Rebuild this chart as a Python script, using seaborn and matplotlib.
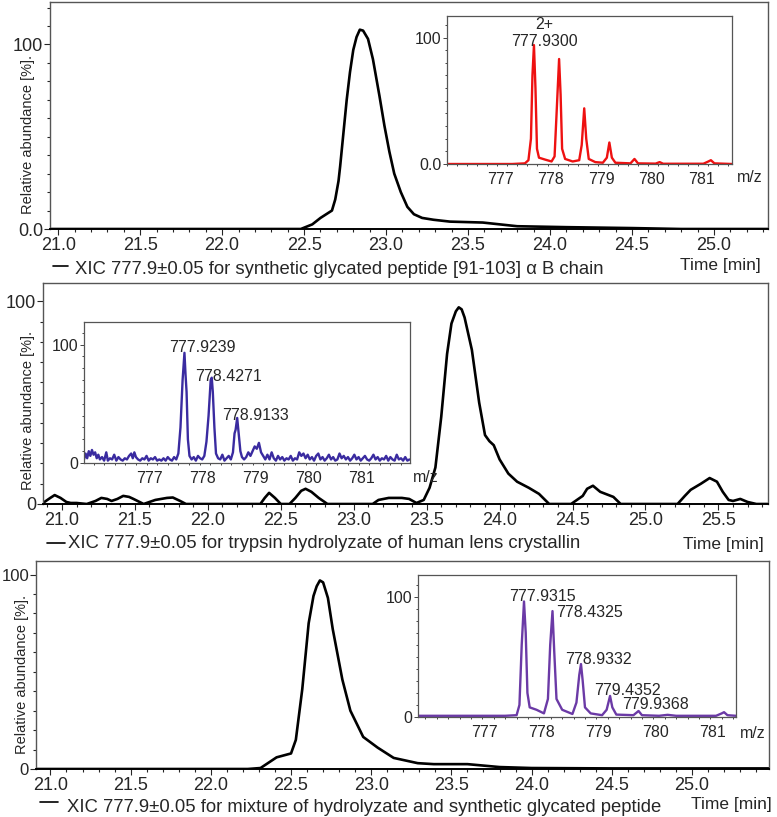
import numpy as np
import seaborn as sns
import matplotlib
matplotlib.use("Agg")
import matplotlib.pyplot as plt
from matplotlib.lines import Line2D
from matplotlib.ticker import MultipleLocator

# ---- chromatogram 1: synthetic glycated peptide ----
t1 = [20.95, 22.30, 22.48, 22.55, 22.60, 22.67, 22.69, 22.71, 22.72, 22.74, 22.76, 22.78,
      22.80, 22.82, 22.84, 22.86, 22.89, 22.92, 22.96, 22.99, 23.02, 23.05, 23.09, 23.13,
      23.17, 23.22, 23.29, 23.39, 23.59, 23.80, 24.10, 24.50, 24.80, 25.33]
a1 = [0, 0, 0, 2.5, 6, 10, 16, 26, 34, 52, 70, 85,
      97, 104, 108, 107.5, 103, 92, 72, 56, 42, 30, 20, 12,
      8, 6, 5, 4, 3.5, 1.5, 1, 0.5, 0, 0]

# ---- chromatogram 2: trypsin hydrolyzate ----
t2 = [20.87, 20.92, 20.95, 20.99, 21.03, 21.06, 21.10, 21.17, 21.23, 21.27, 21.31, 21.34,
      21.38, 21.42, 21.46, 21.49, 21.56, 21.60, 21.64, 21.72, 21.76, 21.81, 21.85, 22.36,
      22.39, 22.42, 22.46, 22.50, 22.56, 22.60, 22.64, 22.67, 22.71, 22.76, 22.82, 23.13,
      23.17, 23.24, 23.33, 23.38, 23.43, 23.48, 23.52, 23.56, 23.60, 23.64, 23.67, 23.70,
      23.72, 23.74, 23.76, 23.81, 23.86, 23.90, 23.93, 23.96, 24.00, 24.06, 24.12, 24.20,
      24.27, 24.34, 24.49, 24.57, 24.60, 24.64, 24.69, 24.78, 24.83, 25.22, 25.27, 25.31,
      25.38, 25.44, 25.49, 25.53, 25.57, 25.60, 25.65, 25.70, 25.76, 25.84]
a2 = [0.5, 3, 4.4, 3, 1, 0.5, 0.5, 0, 1.5, 3, 2.5, 1.5,
      2.5, 4, 3.5, 2.5, 0, 1, 2, 3, 3.2, 1.5, 0, 0,
      3, 5.5, 3, 0, 0, 3, 6.5, 7.5, 6, 3, 0, 0,
      2, 3, 3, 2.5, 0.5, 2, 8, 18, 43, 74, 89, 95,
      97, 96, 92, 76, 50, 34, 31, 29, 22, 15, 11, 8,
      5, 0, 0, 4, 7.5, 9, 6, 3.5, 0, 0, 4, 7,
      10, 12.8, 11, 6, 2, 1.5, 2.5, 1, 0, 0]

# ---- chromatogram 3: mixture ----
t3 = [20.91, 22.23, 22.31, 22.41, 22.50, 22.53, 22.57, 22.61, 22.64, 22.66, 22.68, 22.70,
      22.73, 22.76, 22.82, 22.87, 22.95, 23.04, 23.14, 23.29, 23.39, 23.60, 23.80, 24.00,
      24.50, 25.48]
a3 = [0, 0, 0.5, 6, 8, 15, 41, 75, 89, 94, 97, 96,
      88, 72, 46, 30, 16.5, 11, 5.7, 3, 2.5, 2.5, 1, 0.5,
      0.3, 0.3]

# ---- mass spectrum 1 (red) ----
mz1 = [776.20, 777.50, 777.75, 777.82, 777.87, 777.90, 777.93, 777.96, 777.99, 778.03, 778.15,
       778.28, 778.34, 778.38, 778.43, 778.46, 778.49, 778.55, 778.70, 778.83, 778.88, 778.93,
       778.97, 779.02, 779.15, 779.30, 779.38, 779.43, 779.48, 779.55, 779.85, 779.93, 780.00,
       780.35, 780.43, 780.50, 781.30, 781.40, 781.45, 781.52, 781.87]
i1 = [0, 0, 0.5, 3, 20, 70, 94, 60, 12, 5, 3.5,
      2, 6, 40, 83, 55, 12, 4, 2, 3, 15, 44,
      20, 4, 1.5, 1, 5, 17, 5, 1, 0.5, 4, 0.5,
      0.3, 1.5, 0.2, 0.2, 2, 3, 0.5, 0]

# ---- mass spectrum 2 (blue, noisy) ----
mz2 = [776.02, 776.05, 776.08, 776.11, 776.14, 776.17, 776.20, 776.23, 776.26, 776.29, 776.32,
       776.36, 776.40, 776.44, 776.47, 776.51, 776.55, 776.59, 776.63, 776.67, 776.71, 776.75,
       776.79, 776.83, 776.87, 776.91, 776.94, 776.97, 777.00, 777.04, 777.08, 777.12, 777.16,
       777.20, 777.24, 777.28, 777.32, 777.36, 777.40, 777.44, 777.48, 777.52, 777.56, 777.60,
       777.64, 777.68, 777.72, 777.76, 777.80, 777.84, 777.88, 777.915, 777.935, 777.955, 777.98,
       778.01, 778.05, 778.09, 778.13, 778.17, 778.21, 778.25, 778.29, 778.33, 778.37, 778.41,
       778.43, 778.45, 778.48, 778.51, 778.55, 778.59, 778.63, 778.67, 778.71, 778.75, 778.79,
       778.83, 778.86, 778.88, 778.91, 778.94, 778.97, 779.00, 779.04, 779.08, 779.12, 779.16,
       779.20, 779.24, 779.28, 779.32, 779.36, 779.40, 779.44, 779.48, 779.52, 779.56, 779.60,
       779.64, 779.68, 779.72, 779.76, 779.80, 779.84, 779.88, 779.92, 779.96, 780.00, 780.04,
       780.08, 780.12, 780.16, 780.20, 780.24, 780.28, 780.32, 780.36, 780.40, 780.44, 780.48,
       780.52, 780.56, 780.60, 780.64, 780.68, 780.72, 780.76, 780.80, 780.84, 780.88, 780.92,
       780.96, 781.00, 781.04, 781.08, 781.12, 781.16, 781.20, 781.24, 781.28, 781.32, 781.36,
       781.40, 781.44, 781.48, 781.52, 781.56, 781.60, 781.64, 781.68, 781.72, 781.76, 781.80,
       781.84, 781.88, 781.92, 781.96, 782.00, 782.04, 782.08, 782.12, 782.16]
i2 = [3, 8, 4, 10, 6, 11, 7, 9, 4, 7, 3,
      5, 2, 9, 2, 4, 3, 7, 2, 5, 3, 2,
      4, 3, 6, 8, 4, 9, 5, 3, 2, 4, 3,
      6, 2, 4, 3, 5, 2, 3, 2, 4, 2, 5,
      3, 2, 5, 3, 8, 30, 70, 93, 75, 60, 20,
      6, 3, 5, 2, 6, 4, 3, 6, 18, 40, 70,
      72, 60, 30, 8, 4, 3, 7, 2, 4, 6, 3,
      9, 25, 28, 38, 24, 10, 5, 3, 5, 9, 6,
      10, 14, 12, 17, 9, 6, 3, 7, 3, 9, 4,
      2, 6, 3, 5, 2, 4, 3, 6, 2, 4, 3,
      9, 6, 8, 4, 7, 3, 5, 2, 6, 8, 3,
      5, 2, 4, 7, 3, 5, 2, 3, 8, 4, 6,
      3, 5, 2, 4, 7, 3, 5, 2, 4, 6, 3,
      2, 4, 7, 3, 5, 2, 4, 3, 6, 2, 5,
      3, 2, 7, 3, 4, 2, 5, 2, 3]

# ---- mass spectrum 3 (purple) ----
mz3 = [776.07, 777.60, 777.80, 777.85, 777.89, 777.93, 777.96, 777.99, 778.03, 778.15, 778.28,
       778.35, 778.39, 778.43, 778.46, 778.50, 778.60, 778.78, 778.85, 778.90, 778.93, 778.96,
       779.00, 779.10, 779.30, 779.38, 779.44, 779.48, 779.55, 779.85, 779.94, 780.00, 780.30,
       780.45, 780.60, 781.30, 781.40, 781.44, 781.50, 781.65]
i3 = [1, 1, 1.5, 10, 60, 96, 70, 20, 8, 6, 3,
      15, 60, 88, 55, 15, 6, 2.5, 12, 35, 44, 30,
      8, 3, 1.5, 6, 17.5, 8, 2, 1.5, 5, 1.5, 1,
      1.8, 1, 1, 3, 4, 1.5, 1]

legend_txt = ["XIC 777.9\u00b10.05 for synthetic glycated peptide [91-103] \u03b1 B chain",
              "XIC 777.9\u00b10.05 for trypsin hydrolyzate of human lens crystallin",
              "XIC 777.9\u00b10.05 for mixture of hydrolyzate and synthetic glycated peptide"]

sns.set_style("ticks")
plt.rcParams['font.family'] = ['Liberation Sans', 'DejaVu Sans']

W, H = 777, 817
fig = plt.figure(figsize=(W / 100, H / 100), dpi=100)


def box(l, r, t, b):
    # pixel box -> figure fraction
    return [l / W, (H - b) / H, (r - l) / W, (b - t) / H]


def main_axes(rect, t, a, xlim, ylim, xt, zero_lbl, ysize=13):
    ax = fig.add_axes(rect)
    sns.lineplot(x=t, y=a, ax=ax, color='black', lw=1.9, sort=False)
    ax.set_xlim(*xlim)
    ax.set_ylim(*ylim)
    ax.set_xticks(xt)
    ax.set_xticklabels([f"{v:.1f}" for v in xt])
    ax.xaxis.set_minor_locator(MultipleLocator(0.1))
    ax.set_yticks([0, 100])
    ax.set_yticklabels([zero_lbl, "100"])
    ax.yaxis.set_minor_locator(MultipleLocator(10))
    ax.tick_params(axis='x', which='major', labelsize=13, length=4, width=0.8, pad=2)
    ax.tick_params(axis='y', which='major', labelsize=ysize, length=4, width=0.8, pad=1)
    ax.tick_params(axis='both', which='minor', length=2.5, width=0.8)
    for s in ax.spines.values():
        s.set_color('#555555')
        s.set_linewidth(1.0)
    ax.spines['bottom'].set_color('black')
    ax.spines['bottom'].set_linewidth(1.4)
    ax.set_xlabel('')
    ax.set_ylabel('')
    return ax


def inset_axes(rect, mz, inten, xlim, ylim, color, zero_lbl):
    ax = fig.add_axes(rect)
    sns.lineplot(x=mz, y=inten, ax=ax, color=color, lw=1.7, sort=False)
    ax.set_xlim(*xlim)
    ax.set_ylim(*ylim)
    ax.set_xticks([777, 778, 779, 780, 781])
    ax.set_xticklabels(["777", "778", "779", "780", "781"])
    for lab in ax.get_xticklabels():
        lab.set_ha('left')
    ax.xaxis.set_minor_locator(MultipleLocator(0.2))
    ax.set_yticks([0, 100])
    ax.set_yticklabels([zero_lbl, "100"])
    ax.yaxis.set_minor_locator(MultipleLocator(10))
    ax.tick_params(axis='x', which='both', labelsize=11.5, length=1.5, width=0.6, pad=4)
    ax.tick_params(axis='y', which='major', labelsize=11.5, length=3, width=0.6, pad=1)
    ax.tick_params(axis='y', which='minor', length=1.5, width=0.6)
    for s in ax.spines.values():
        s.set_color('#555555')
        s.set_linewidth(0.9)
    ax.set_xlabel('')
    ax.set_ylabel('')
    return ax


# panel 1
ax1 = main_axes(box(50, 768, 2, 229), t1, a1, (20.95, 25.33), (0, 123),
                [21.0, 21.5, 22.0, 22.5, 23.0, 23.5, 24.0, 24.5, 25.0], "0.0")
in1 = inset_axes(box(447, 732, 16, 164), mz1, i1, (776.2, 781.87), (0, 117), '#ee1111', "0.0")
in1.text(778.13, 110, "2+", ha='center', va='center', fontsize=11.5)
in1.text(778.13, 97, "777.9300", ha='center', va='center', fontsize=11.5)

# panel 2
ax2 = main_axes(box(43, 768, 283, 504), t2, a2, (20.87, 25.84), (0, 109),
                [21.0, 21.5, 22.0, 22.5, 23.0, 23.5, 24.0, 24.5, 25.0, 25.5], "0")
in2 = inset_axes(box(84, 410, 322, 463), mz2, i2, (776.02, 782.17), (0, 119), '#3a2ba0', "0")
in2.text(778.26, 97.5, "777.9239", ha='center', va='center', fontsize=11.5)
in2.text(778.74, 73, "778.4271", ha='center', va='center', fontsize=11.5)
in2.text(779.25, 40, "778.9133", ha='center', va='center', fontsize=11.5)

# panel 3
ax3 = main_axes(box(36, 769, 561, 769), t3, a3, (20.91, 25.48), (0, 107),
                [21.0, 21.5, 22.0, 22.5, 23.0, 23.5, 24.0, 24.5, 25.0], "0", ysize=12)
in3 = inset_axes(box(418, 736, 575, 717), mz3, i3, (776.07, 781.65), (0, 118), '#6b3aa6', "0")
in3.text(778.25, 100, "777.9315", ha='center', va='center', fontsize=11.5)
in3.text(778.49, 87, "778.4325", ha='left', va='center', fontsize=11.5)
in3.text(779.23, 48, "778.9332", ha='center', va='center', fontsize=11.5)
in3.text(779.74, 22, "779.4352", ha='center', va='center', fontsize=11.5)
in3.text(780.23, 10, "779.9368", ha='center', va='center', fontsize=11.5)


def fig_text(x, y, s, **kw):
    fig.text(x / W, 1 - y / H, s, **kw)


# m/z labels
fig_text(737, 178, "m/z", ha='left', va='center', fontsize=11.5)
fig_text(413, 477, "m/z", ha='left', va='center', fontsize=11.5)
fig_text(740, 733, "m/z", ha='left', va='center', fontsize=11.5)

# y labels
for xc, yc in ((28, 135), (28, 410), (22, 675)):
    fig_text(xc, yc, "Relative abundance [%].", rotation=90, ha='center', va='center', fontsize=10.5)

# legends and time labels
for (x0, x1, ly, tx, ty, s) in [(53, 68, 266, 75, 270, legend_txt[0]),
                                (47, 65, 543, 68, 544, legend_txt[1]),
                                (40, 58, 802, 67, 808, legend_txt[2])]:
    fig.add_artist(Line2D([x0 / W, x1 / W], [1 - ly / H, 1 - ly / H], color='black', lw=1.2))
    fig_text(tx, ty, s, ha='left', va='center', fontsize=13.3)

fig_text(720, 265, "Time [min]", ha='center', va='center', fontsize=12.5)
fig_text(723, 545, "Time [min]", ha='center', va='center', fontsize=12.5)
fig_text(731, 805, "Time [min]", ha='center', va='center', fontsize=12.5)

fig.savefig("out.png", dpi=100)
